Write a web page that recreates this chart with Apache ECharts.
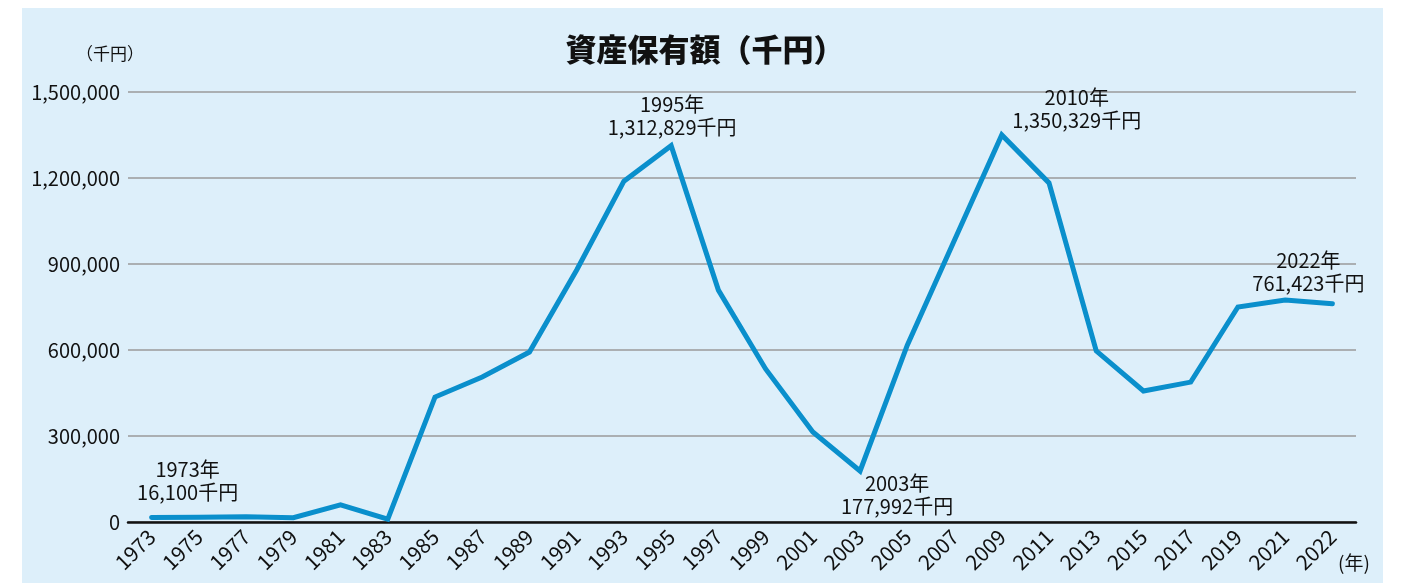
<!DOCTYPE html>
<html><head><meta charset="utf-8">
<script src="https://cdn.jsdelivr.net/npm/echarts@6/dist/echarts.min.js"></script>
<style>html,body{margin:0;padding:0;background:#fff}#c{width:1410px;height:583px}</style>
</head><body><div id="c"></div>
<script>
const years = ['1973','1975','1977','1979','1981','1983','1985','1987','1989','1991','1993','1995','1997','1999','2001','2003','2005','2007','2009','2011','2013','2015','2017','2019','2021','2022'];
const assets = [16100,17000,18000,15000,60000,10000,436000,506000,593000,879000,1189000,1312829,809000,534000,314000,177992,617000,984000,1350329,1183000,597000,457000,488000,750000,774000,761423];
const yTicks = [0,300000,600000,900000,1200000,1500000];
const notes = [
  {i:0, text:'1973年\n16,100千円', pos:'top', off:[36,-8]},
  {i:11, text:'1995年\n1,312,829千円', pos:'top', off:[1,-2]},
  {i:15, text:'2003年\n177,992千円', pos:'bottom', off:[37,-4]},
  {i:18, text:'2010年\n1,350,329千円', pos:'top', off:[75,2]},
  {i:25, text:'2022年\n761,423千円', pos:'top', off:[-24,-4]}
];
const FONT = '"Noto Sans CJK JP","Noto Sans",sans-serif';
const seriesData = assets.map((v,i)=>{
  const n = notes.find(o=>o.i===i);
  if(!n) return v;
  return {value:v, label:{show:true, position:n.pos, offset:n.off, formatter:n.text,
    color:'#111', fontSize:20, lineHeight:23, fontFamily:FONT}};
});
const chart = echarts.init(document.getElementById('c'));
chart.setOption({
  animation:false,
  backgroundColor:'#ffffff',
  graphic:[{type:'rect', z:-10, shape:{x:22,y:8,width:1361,height:580}, style:{fill:'#ddeffa'}},
    {type:'text', left:1338, top:553, style:{text:'(年)', fontSize:19, fill:'#111', fontFamily:FONT}}],
  title:{text:'資産保有額（千円）', left:'center', top:29,
    textStyle:{fontSize:31, fontWeight:900, color:'#111', fontFamily:FONT}},
  grid:{left:128, right:54, top:92, bottom:61},
  xAxis:{type:'category', data:years, boundaryGap:true,
    axisLine:{lineStyle:{color:'#111', width:2.5}},
    axisTick:{show:false},
    axisLabel:{rotate:45, interval:0, fontSize:21, color:'#111', fontFamily:FONT, margin:11}},
  yAxis:{type:'value', min:0, max:1500000, interval:300000,
    name:'（千円）', nameLocation:'end', nameGap:30,
    nameTextStyle:{fontSize:17, color:'#111', fontFamily:FONT, align:'right', padding:[0,-16,0,0]},
    axisLine:{show:false}, axisTick:{show:false},
    axisLabel:{fontSize:20, color:'#111', fontFamily:FONT, margin:8,
      formatter:v=> yTicks.includes(v) ? v.toLocaleString('en-US') : ''},
    splitLine:{lineStyle:{color:'#9a9a9a', width:1.5}}},
  series:[{type:'line', data:seriesData, symbol:'circle', symbolSize:0, showSymbol:true,
    lineStyle:{color:'#0a8fcc', width:5, cap:'round', join:'miter'},
    itemStyle:{color:'#0a8fcc'}}]
});
</script></body></html>
